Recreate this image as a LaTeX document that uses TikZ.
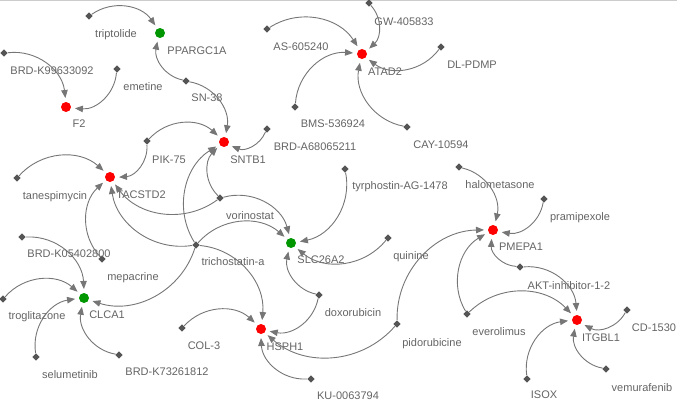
\documentclass[tikz,border=0pt]{standalone}
\usepackage{fontspec}
\setmainfont{Liberation Sans}
\usetikzlibrary{shapes.geometric,arrows.meta}
\definecolor{edgec}{RGB}{118,118,118}
\definecolor{drugc}{RGB}{85,85,85}
\definecolor{txtc}{RGB}{100,100,100}
\definecolor{redc}{RGB}{255,0,0}
\definecolor{greenc}{RGB}{0,150,0}
\begin{document}
\begin{tikzpicture}[x=1pt,y=-1pt,
 gene/.style={circle,inner sep=0,minimum size=10pt,outer sep=4pt},
 upreg/.style={gene,fill=redc},
 downreg/.style={gene,fill=greenc},
 drug/.style={diamond,fill=drugc,inner sep=0,minimum size=7.5pt,outer sep=0.5pt},
 lbl/.style={anchor=base,text=txtc,font=\fontsize{11}{13}\selectfont,inner sep=0},
 link/.style={draw=edgec,line width=0.9pt,-{Triangle[length=8pt,width=6.5pt]},bend left=45},
]
\useasboundingbox (0,0) rectangle (677,400);
\draw[gray!40,line width=1pt] (0,0.5) -- (677,0.5);

% genes
\node[downreg] (ppar) at (160,33) {};
\node[upreg] (f2) at (66,107) {};
\node[upreg] (atad) at (362,54) {};
\node[upreg] (sntb) at (224,142) {};
\node[upreg] (tacs) at (110,177) {};
\node[downreg] (slc) at (291,243) {};
\node[downreg] (clca) at (84,298) {};
\node[upreg] (hsph) at (261,329) {};
\node[upreg] (pmepa) at (493,230) {};
\node[upreg] (itgb) at (577,320) {};

% drugs
\node[drug] (trip) at (89,16) {};
\node[drug] (brdk99) at (4,53) {};
\node[drug] (emet) at (117,69) {};
\node[drug] (sn38) at (186,81) {};
\node[drug] (as60) at (267,29) {};
\node[drug] (gw40) at (369,3) {};
\node[drug] (dlp) at (441,47) {};
\node[drug] (bms) at (295,107) {};
\node[drug] (cay) at (407,127) {};
\node[drug] (brda) at (267,129) {};
\node[drug] (pik) at (147,141) {};
\node[drug] (tane) at (17,178) {};
\node[drug] (brdk05) at (22,237) {};
\node[drug] (mepa) at (102,259) {};
\node[drug] (tric) at (196,245) {};
\node[drug] (vori) at (220,198) {};
\node[drug] (tyrp) at (345,169) {};
\node[drug] (quin) at (388,238) {};
\node[drug] (doxo) at (319,295) {};
\node[drug] (col3) at (182,328) {};
\node[drug] (trog) at (3,299) {};
\node[drug] (selu) at (36,357) {};
\node[drug] (brdk73) at (119,355) {};
\node[drug] (ku) at (311,379) {};
\node[drug] (pido) at (397,324) {};
\node[drug] (halo) at (459,167) {};
\node[drug] (prami) at (544,199) {};
\node[drug] (akt) at (520,267) {};
\node[drug] (evero) at (467,314) {};
\node[drug] (cd15) at (627,310) {};
\node[drug] (isox) at (527,379) {};
\node[drug] (vemu) at (606,369) {};

% labels
\node[lbl] (l-ppar) at (197,54) {PPARGC1A};
\node[lbl] (l-f2) at (79,127) {F2};
\node[lbl] (l-atad) at (385,75) {ATAD2};
\node[lbl] (l-sntb) at (248,163) {SNTB1};
\node[lbl] (l-tacs) at (141,198) {TACSTD2};
\node[lbl] (l-slc) at (321,263) {SLC26A2};
\node[lbl] (l-clca) at (107,318) {CLCA1};
\node[lbl] (l-hsph) at (285,350) {HSPH1};
\node[lbl] (l-pmepa) at (521,250) {PMEPA1};
\node[lbl] (l-itgb) at (601,341) {ITGBL1};

\node[lbl] (l-trip) at (116,37) {triptolide};
\node[lbl] (l-brdk99) at (52,74) {BRD-K99633092};
\node[lbl] (l-emet) at (143,90) {emetine};
\node[lbl] (l-sn38) at (207,101) {SN-38};
\node[lbl] (l-as60) at (301,50) {AS-605240};
\node[lbl] (l-gw40) at (404,25) {GW-405833};
\node[lbl] (l-dlp) at (472,68) {DL-PDMP};
\node[lbl] (l-bms) at (333,127) {BMS-536924};
\node[lbl] (l-cay) at (441,148) {CAY-10594};
\node[lbl] (l-brda) at (315,150) {BRD-A68065211};
\node[lbl] (l-pik) at (169,163) {PIK-75};
\node[lbl] (l-tane) at (55,199) {tanespimycin};
\node[lbl] (l-brdk05) at (69,257) {BRD-K05402800};
\node[lbl] (l-mepa) at (133,280) {mepacrine};
\node[lbl] (l-tric) at (233,265) {trichostatin-a};
\node[lbl] (l-vori) at (250,219) {vorinostat};
\node[lbl] (l-tyrp) at (400,189) {tyrphostin-AG-1478};
\node[lbl] (l-quin) at (411,259) {quinine};
\node[lbl] (l-doxo) at (353,316) {doxorubicin};
\node[lbl] (l-col3) at (204,349) {COL-3};
\node[lbl] (l-trog) at (37,319) {troglitazone};
\node[lbl] (l-selu) at (70,378) {selumetinib};
\node[lbl] (l-brdk73) at (167,375) {BRD-K73261812};
\node[lbl] (l-ku) at (348,399) {KU-0063794};
\node[lbl] (l-pido) at (432,346) {pidorubicine};
\node[lbl] (l-halo) at (500,188) {halometasone};
\node[lbl] (l-prami) at (580,220) {pramipexole};
\node[lbl] (l-akt) at (569,289) {AKT-inhibitor-1-2};
\node[lbl] (l-evero) at (499,335) {everolimus};
\node[lbl] (l-cd15) at (654,331) {CD-1530};
\node[lbl] (l-isox) at (544,398) {ISOX};
\node[lbl] (l-vemu) at (642,391) {vemurafenib};

% edges
\draw[link] (trip) to (ppar);
\draw[link] (sn38) to (ppar);
\draw[link] (sn38) to (sntb);
\draw[link] (brdk99) to (f2);
\draw[link] (emet) to (f2);
\draw[link] (as60) to (atad);
\draw[link] (gw40) to (atad);
\draw[link] (dlp) to (atad);
\draw[link] (bms) to (atad);
\draw[link] (cay) to (atad);
\draw[link] (pik) to (sntb);
\draw[link] (pik) to (tacs);
\draw[link] (brda) to (sntb);
\draw[link] (tric) to (sntb);
\draw[link] (vori) to (sntb);
\draw[link] (tane) to (tacs);
\draw[link] (mepa) to (tacs);
\draw[link] (tric) to (tacs);
\draw[link] (vori) to (tacs);
\draw[link] (vori) to (slc);
\draw[link] (tric) to (slc);
\draw[link] (tyrp) to (slc);
\draw[link] (quin) to (slc);
\draw[link] (doxo) to (slc);
\draw[link] (brdk05) to (clca);
\draw[link] (trog) to (clca);
\draw[link] (selu) to (clca);
\draw[link] (brdk73) to (clca);
\draw[link] (tric) to (clca);
\draw[link] (tric) to (hsph);
\draw[link] (col3) to (hsph);
\draw[link] (doxo) to (hsph);
\draw[link] (ku) to (hsph);
\draw[link] (pido) to (hsph);
\draw[link] (pido) to (pmepa);
\draw[link] (halo) to (pmepa);
\draw[link] (prami) to (pmepa);
\draw[link] (evero) to (pmepa);
\draw[link] (akt) to (pmepa);
\draw[link] (akt) to (itgb);
\draw[link] (evero) to (itgb);
\draw[link] (cd15) to (itgb);
\draw[link] (isox) to (itgb);
\draw[link] (vemu) to (itgb);
\end{tikzpicture}
\end{document}
